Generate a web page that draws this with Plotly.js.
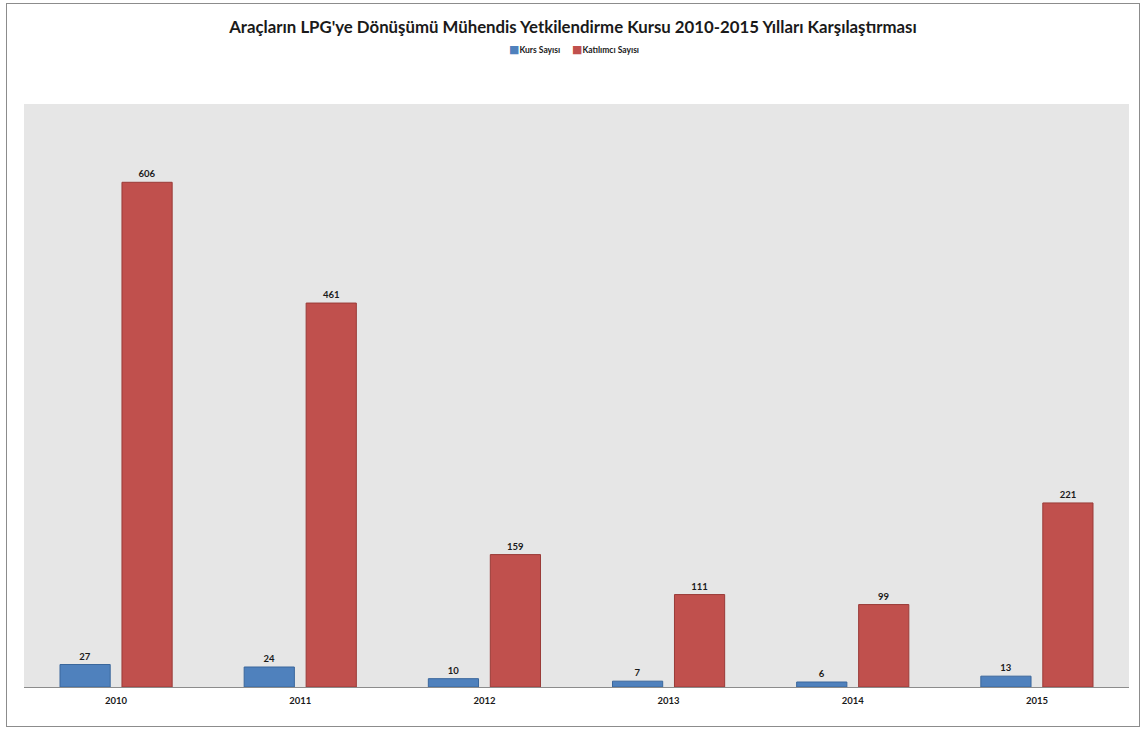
<!DOCTYPE html>
<html><head><meta charset="utf-8">
<script src="https://cdn.plot.ly/plotly-3.0.1.min.js"></script>
<style>
body{margin:0;background:#fff;}
#wrap{position:absolute;left:6px;top:3px;width:1132px;height:722px;border:1px solid #8c8c8c;}
#chart{width:1132px;height:722px;}
</style></head><body>
<div id="wrap"><div id="chart"></div></div>
<script>
const years = ['2010','2011','2012','2013','2014','2015'];
const kursSayisi = [27, 24, 10, 7, 6, 13];
const katilimciSayisi = [606, 461, 159, 111, 99, 221];
const seriesNames = ['Kurs Sayısı', 'Katılımcı Sayısı'];
const seriesColors = ['#4F81BD', '#C0504D'];
const titleText = "Araçların LPG'ye Dönüşümü Mühendis Yetkilendirme Kursu 2010-2015 Yılları Karşılaştırması";

const FONT = 'Lato, "Open Sans", sans-serif';
const lblFont = {family: FONT, size: 9.5, color: '#1a1a1a', weight: 'bold'};

const traces = [
  {type:'bar', name: seriesNames[0], x: years, y: kursSayisi,
   marker:{color:seriesColors[0], line:{color:'#3A679C', width:1}},
   text: kursSayisi.map(v=>'<b>'+v+'</b>'), textposition:'outside', cliponaxis:false,
   textfont: lblFont, hoverinfo:'x+y'},
  {type:'bar', name: seriesNames[1], x: years, y: katilimciSayisi,
   marker:{color:seriesColors[1], line:{color:'#9A3B38', width:1}},
   text: katilimciSayisi.map(v=>'<b>'+v+'</b>'), textposition:'outside', cliponaxis:false,
   textfont: lblFont, hoverinfo:'x+y'}
];

const legY = 1 + (100-46)/583;
const sq = c => '<span style="color:'+c+';font-size:11px;font-family:DejaVu Sans">■</span>';
const legendAnn = [
  {text: sq(seriesColors[0]) + '<b>'+seriesNames[0]+'</b>', x: (500-17)/1105, xanchor:'left'},
  {text: sq(seriesColors[1]) + '<b>'+seriesNames[1]+'</b>', x: (563-17)/1105, xanchor:'left'}
].map(a=>Object.assign({xref:'paper', yref:'paper', y:legY, yanchor:'middle', showarrow:false,
  font:{family:FONT, size:8.5, color:'#1a1a1a'}}, a));

const layout = {
  width:1132, height:722,
  margin:{l:17, r:10, t:100, b:39},
  paper_bgcolor:'#ffffff', plot_bgcolor:'#E6E6E6',
  font:{family: FONT, color:'#1a1a1a'},
  title:{text:'<b>'+titleText+'</b>', font:{family:FONT, size:16.8, color:'#1a1a1a'},
         x:0.5, xanchor:'center', y:1-23/722, yanchor:'middle'},
  barmode:'group', bargap:0.327, bargroupgap:0.19,
  showlegend:false,
  annotations: legendAnn,
  xaxis:{type:'category', showline:true, linecolor:'#8c8c8c', linewidth:1, ticks:'', ticklabelstandoff:5,
         tickfont:{family:FONT, size:9.5, color:'#1a1a1a', weight:'bold'}, showgrid:false, zeroline:false},
  yaxis:{range:[0,700], showticklabels:false, showgrid:false, zeroline:false, showline:false, ticks:''}
};

Plotly.newPlot('chart', traces, layout, {displayModeBar:false, staticPlot:true});
</script>
</body></html>
